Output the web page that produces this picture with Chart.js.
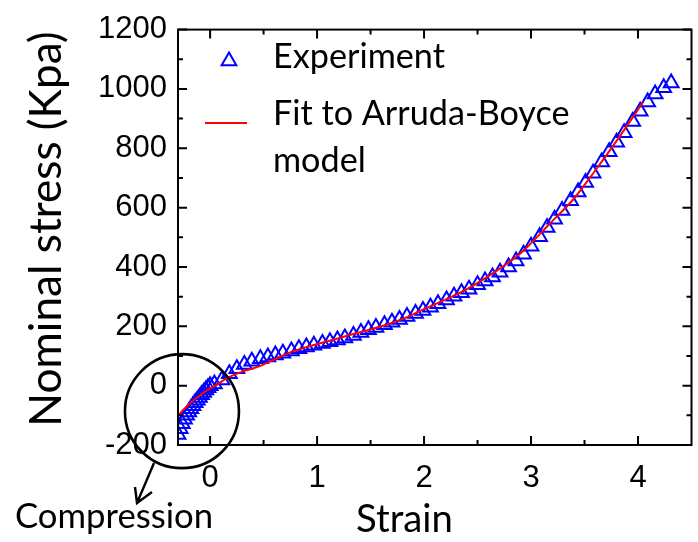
<!DOCTYPE html>
<html><head><meta charset="utf-8">
<script src="https://cdn.jsdelivr.net/npm/chart.js@4/dist/chart.umd.min.js"></script>
<style>
html,body{margin:0;padding:0;background:#fff;overflow:hidden;width:698px;height:542px}
canvas{display:block}
</style></head>
<body><canvas id="c" width="702" height="542"></canvas>
<script>
// ---- data ----
const expStrain = [-0.30,-0.28,-0.26,-0.24,-0.22,-0.20,-0.18,-0.16,-0.14,-0.12,-0.10,-0.08,-0.06,-0.04,-0.02,0.00,
  0.04,0.11,0.18,0.25,0.32,0.39,0.47,0.54,0.61,0.68,0.76,0.83,0.90,0.97,1.05,1.12,1.19,1.26,1.34,1.41,1.48,1.55,1.63,1.70,
  1.77,1.84,1.92,1.99,2.06,2.13,2.21,2.28,2.35,2.42,2.50,2.57,2.64,2.71,2.79,2.86,2.93,3.00,3.08,3.15,3.22,3.29,3.37,3.44,
  3.51,3.58,3.66,3.73,3.80,3.87,3.95,4.02,4.09,4.16,4.24,4.31];
const expStress = [-165,-145,-128,-113,-100,-89,-78,-68,-58,-49,-40,-31,-23,-15,-7,0,
  6,19,40,57,71,82,91,97,103,109,117,124,130,136,142,148,154,161,169,179,188,196,205,214,
  223,233,243,253,264,276,289,301,313,325,340,353,366,382,400,420,443,470,502,533,561,590,623,653,
  685,716,754,788,820,852,890,925,956,983,1004,1020];
const fitStrain = [-0.30,-0.24,-0.16,-0.08,0.00,0.08,0.15,0.30,0.45,0.60,0.76,0.90,1.07,1.20,1.34,1.60,1.80,2.00,2.20,2.40,2.67,2.90,3.17,3.40,3.59,3.80,4.05];
const fitStress = [-101,-78,-51,-28,-10,7,24,47,64,88,114,130,147,160,174,200,225,258,290,325,385,445,544,630,720,825,957];
const xTicks = [0,1,2,3,4];
const xMinorTicks = [0.5,1.5,2.5,3.5];
const yTicks = [-200,0,200,400,600,800,1000,1200];
const yMinorTicks = [-100,100,300,500,700,900,1100];
const seriesNames = ['Experiment','Fit to Arruda-Boyce model'];
const legendLines = [['Experiment'],['Fit to Arruda-Boyce','model']];
const xTitle = 'Strain';
const yTitle = 'Nominal stress (Kpa)';
const noteText = 'Compression';

// ---- fonts ----
const TXT = 'Lato, "Noto Sans", sans-serif';
const NUM = '"Liberation Sans", Arial, sans-serif';
const mctx = document.createElement('canvas').getContext('2d');
function fitSize(text, w){ mctx.font = '100px ' + TXT; return 100 * w / mctx.measureText(text).width; }
const yTitleSize = fitSize(yTitle, 395);
const xTitleSize = fitSize(xTitle, 97);
const legSize = fitSize(legendLines[1][0], 297);
const noteSize = fitSize(noteText, 198);

const BLUE = '#0000ff', RED = '#ff0000';

function tri(ctx, cx, cy, r){
  ctx.beginPath();
  ctx.moveTo(cx, cy - r);
  ctx.lineTo(cx + r*0.866, cy + r*0.5);
  ctx.lineTo(cx - r*0.866, cy + r*0.5);
  ctx.closePath();
  ctx.stroke();
}

const decor = {
  id: 'decor',
  afterDraw(chart){
    const ctx = chart.ctx, xs = chart.scales.x, ys = chart.scales.y;
    const {left, right, top, bottom} = chart.chartArea;
    ctx.save();
    ctx.strokeStyle = '#000'; ctx.lineWidth = 2;
    ctx.strokeRect(left, top, right-left, bottom-top);
    ctx.beginPath();
    const tk = (list, len) => {
      list.forEach(v => { const p = xs.getPixelForValue(v);
        ctx.moveTo(p, bottom); ctx.lineTo(p, bottom - len);
        ctx.moveTo(p, top); ctx.lineTo(p, top + len); });
    };
    const tky = (list, len) => {
      list.forEach(v => { const p = ys.getPixelForValue(v);
        ctx.moveTo(left, p); ctx.lineTo(left + len, p);
        ctx.moveTo(right, p); ctx.lineTo(right - len, p); });
    };
    tk(xTicks, 9); tk(xMinorTicks, 5); tky(yTicks, 9); tky(yMinorTicks, 5);
    ctx.stroke();

    ctx.fillStyle = '#000';
    // y title
    ctx.save();
    ctx.translate(61, 229); ctx.rotate(-Math.PI/2);
    ctx.font = yTitleSize.toFixed(1) + 'px ' + TXT;
    ctx.textAlign = 'center'; ctx.textBaseline = 'alphabetic';
    ctx.fillText(yTitle, 0, 0);
    ctx.restore();
    // x title
    ctx.font = xTitleSize.toFixed(1) + 'px ' + TXT;
    ctx.textAlign = 'left'; ctx.textBaseline = 'alphabetic';
    ctx.fillText(xTitle, 356, 532);

    // legend
    const ds = chart.data.datasets;
    ctx.strokeStyle = ds[0].pointBorderColor; ctx.lineWidth = 2;
    tri(ctx, 229, 61, 8.5);
    ctx.strokeStyle = ds[1].borderColor; ctx.lineWidth = 2;
    ctx.beginPath(); ctx.moveTo(205, 123); ctx.lineTo(247, 123); ctx.stroke();
    ctx.font = legSize.toFixed(1) + 'px ' + TXT;
    ctx.fillText(legendLines[0][0], 273, 68);
    ctx.fillText(legendLines[1][0], 273, 125);
    ctx.fillText(legendLines[1][1], 273, 172);

    // compression annotation
    ctx.strokeStyle = '#000'; ctx.lineWidth = 2.6;
    const cx = xs.getPixelForValue(-0.263), cy = ys.getPixelForValue(-86);
    ctx.beginPath(); ctx.arc(cx, cy, 57, 0, Math.PI*2); ctx.stroke();
    ctx.lineWidth = 2.4;
    ctx.beginPath();
    ctx.moveTo(154, 463); ctx.lineTo(137, 503);
    ctx.moveTo(135, 487); ctx.lineTo(137, 503); ctx.lineTo(152, 492);
    ctx.stroke();
    ctx.font = noteSize.toFixed(1) + 'px ' + TXT;
    ctx.fillText(noteText, 15, 528);
    ctx.restore();
  }
};

new Chart(document.getElementById('c').getContext('2d'), {
  type: 'scatter',
  data: { datasets: [
    { label: seriesNames[0], data: expStrain.map((x,i)=>({x, y: expStress[i]})),
      pointStyle: 'triangle', pointRadius: 8.5, pointBorderColor: BLUE, pointBackgroundColor: 'rgba(0,0,0,0)',
      pointBorderWidth: 2, showLine: false, order: 1, clip: 0 },
    { label: seriesNames[1], data: fitStrain.map((x,i)=>({x, y: fitStress[i]})),
      showLine: true, borderColor: RED, borderWidth: 2, pointRadius: 0, cubicInterpolationMode: 'monotone',
      order: 0, clip: 0 }
  ]},
  options: {
    responsive: false, animation: false, devicePixelRatio: 1,
    layout: { padding: { top: 21, right: 1, left: 0, bottom: 0 } },
    plugins: { legend: { display: false }, tooltip: { enabled: false } },
    scales: {
      x: { type: 'linear', min: -0.3, max: 4.5,
        afterBuildTicks: s => { s.ticks = xTicks.map(v => ({ value: v })); },
        afterFit: s => { s.height = 97; },
        grid: { display: false, drawTicks: false }, border: { display: false },
        ticks: { color: '#000', padding: 15, font: { family: NUM, size: 31 }, callback: v => String(v) } },
      y: { type: 'linear', min: -200, max: 1200,
        afterBuildTicks: s => { s.ticks = yTicks.map(v => ({ value: v })); },
        afterFit: s => { s.width = 178; },
        grid: { display: false, drawTicks: false }, border: { display: false },
        ticks: { color: '#000', padding: 11, font: { family: NUM, size: 31 }, callback: v => String(v) } }
    }
  },
  plugins: [decor]
});
</script>
</body></html>
